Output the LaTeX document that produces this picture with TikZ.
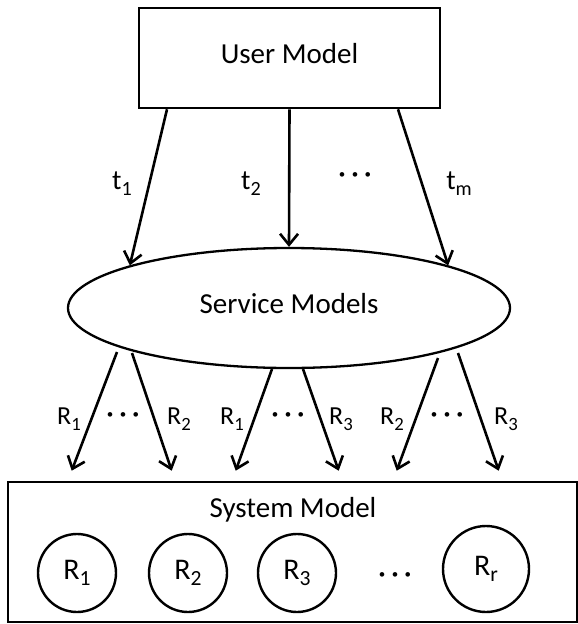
\documentclass[tikz,border=0pt]{standalone}
\usepackage{fontspec}
\setmainfont{Carlito}
\usetikzlibrary{arrows.meta,shapes.geometric,calc}
\newcommand\threedots{{\fontsize{13}{13}\selectfont •\kern6.5pt•\kern6.5pt•}}
\newcommand\mysub[1]{\raisebox{-0.22em}{\scalebox{0.72}{#1}}}
\begin{document}
\begin{tikzpicture}[x=1pt,y=-1pt,
  box/.style={draw,line width=2.6pt,inner sep=0pt},
  bigtext/.style={font=\fontsize{29}{34}\selectfont,text height=19pt,text depth=9pt,inner sep=0pt},
  lbl/.style={font=\fontsize{26}{30}\selectfont,inner sep=0pt},
  tlbl/.style={font=\fontsize{28}{32}\selectfont,inner sep=0pt},
  circtext/.style={draw,circle,line width=2.4pt,inner sep=0pt,font=\fontsize{30}{34}\selectfont},
  dotsnode/.style={inner sep=0pt},
  arr/.style={line width=2.6pt,-{Straight Barb[length=11pt,width=18pt]}}]
\useasboundingbox (0,0) rectangle (578,624);
% user model
\node[box,minimum width=301pt,minimum height=100pt] (um) at (289.5,58) {};
\node[bigtext] (umt) at (um.center) {User Model};
% service models
\node[draw,ellipse,line width=2.3pt,minimum width=442pt,minimum height=120pt,inner sep=0pt] (sm) at (289,308) {};
\node[bigtext] (smt) at (sm.center) {Service Models};
% system model
\node[box,minimum width=569pt,minimum height=140pt] (sys) at (292.5,552) {};
\node[bigtext] (syst) at (293,512) {System Model};
\node[circtext,minimum size=78pt] (c1) at (77,573) {R\mysub{1}};
\node[circtext,minimum size=78pt] (c2) at (188,573) {R\mysub{2}};
\node[circtext,minimum size=78pt] (c3) at (297,573) {R\mysub{3}};
\node[dotsnode] (cd) at (395,576) {\threedots};
\node[circtext,minimum size=86pt] (cr) at (486,569) {R\mysub{r}};
% top arrows
\draw[arr] ($(um.south)+(-122.5,0)$) -- (sm.165);
\draw[arr] (um.south) -- (sm.north);
\draw[arr] ($(um.south)+(108.5,0)$) -- (sm.15);
\node[tlbl] (t1) at (122,184) {t\mysub{1}};
\node[tlbl] (t2) at (251,184) {t\mysub{2}};
\node[dotsnode] (td) at (355,176) {\threedots};
\node[tlbl] (tm) at (459,184) {t\mysub{m}};
% bottom arrows
\draw[arr] ($(sm.center)+(-172,44)$) -- ($(sys.north west)+(65,-10)$);
\draw[arr] ($(sm.center)+(-157,45)$) -- ($(sys.north west)+(165,-10)$);
\draw[arr] ($(sm.center)+(-17,61)$) -- ($(sys.north west)+(229,-10)$);
\draw[arr] ($(sm.center)+(14,61)$) -- ($(sys.north west)+(332,-10)$);
\draw[arr] ($(sm.center)+(149,50)$) -- ($(sys.north west)+(390,-10)$);
\draw[arr] ($(sm.center)+(169,45)$) -- ($(sys.north west)+(492,-10)$);
\node[lbl] (r1a) at (69,419) {R\mysub{1}};
\node[dotsnode] (d1) at (123,416) {\threedots};
\node[lbl] (r2a) at (179,419) {R\mysub{2}};
\node[lbl] (r1b) at (232,419) {R\mysub{1}};
\node[dotsnode] (d2) at (288,416) {\threedots};
\node[lbl] (r3a) at (341,419) {R\mysub{3}};
\node[lbl] (r2b) at (392,419) {R\mysub{2}};
\node[dotsnode] (d3) at (447,416) {\threedots};
\node[lbl] (r3b) at (506,419) {R\mysub{3}};
\end{tikzpicture}
\end{document}
